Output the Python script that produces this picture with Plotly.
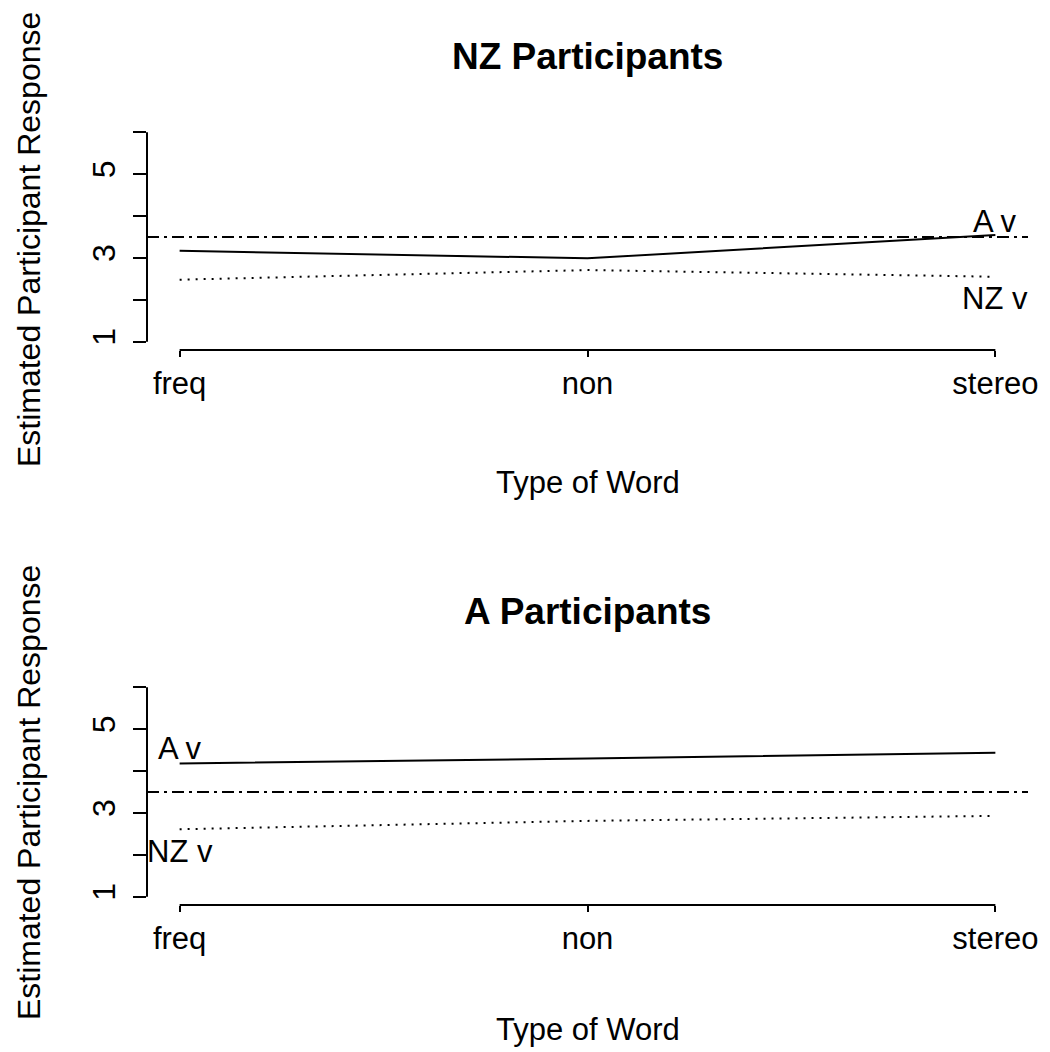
import plotly.graph_objects as go

# ---------------- data ----------------
categories = ["freq", "non", "stereo"]
y_ticks = [1, 2, 3, 4, 5, 6]
y_tick_labels = ["1", "", "3", "", "5", ""]
reference_level = 3.5

nz_panel_A = [3.17, 2.99, 3.55]    # solid line, NZ participants
nz_panel_NZ = [2.48, 2.71, 2.55]   # dotted line, NZ participants
a_panel_A = [4.18, 4.30, 4.44]     # solid line, A participants
a_panel_NZ = [2.61, 2.81, 2.93]    # dotted line, A participants

panel_titles = ["NZ Participants", "A Participants"]
x_title = "Type of Word"
y_title = "Estimated Participant Response"
series_labels = ["A v", "NZ v"]
nz_label_pos = [(3, 3.88), (3, 2.02)]
a_label_pos = [(1, 4.55), (1, 2.07)]

# ---------------- figure ----------------
FONT = "Liberation Sans, Arial, Helvetica, sans-serif"
W, H = 1050, 1052
ML, MR, MT, MB = 147, 14, 124, 147
plot_h = H - MT - MB


def py(p):
    return (H - MB - p) / plot_h


def px_(p):
    return (p - ML) / (W - ML - MR)


x_pos = [i + 1 for i in range(len(categories))]

fig = go.Figure()

panels = [
    ("x", "y", nz_panel_A, nz_panel_NZ, nz_label_pos),
    ("x2", "y2", a_panel_A, a_panel_NZ, a_label_pos),
]

for xr, yr, solid, dotted, lpos in panels:
    fig.add_trace(go.Scatter(x=x_pos, y=solid, mode="lines", xaxis=xr, yaxis=yr,
                             line=dict(color="black", width=2), showlegend=False,
                             name=series_labels[0]))
    fig.add_trace(go.Scatter(x=x_pos, y=dotted, mode="lines", xaxis=xr, yaxis=yr,
                             line=dict(color="black", width=2, dash="2px,6px"),
                             showlegend=False, name=series_labels[1]))
    # reference dash-dot line across the plot region
    fig.add_shape(type="line", xref=xr + " domain", yref=yr, x0=0, x1=1,
                  y0=reference_level, y1=reference_level,
                  line=dict(color="black", width=2, dash="12px,5px,3px,5px"))
    # R-style axis lines spanning only the tick range
    fig.add_shape(type="line", xref=xr, yref=yr + " domain", x0=x_pos[0], x1=x_pos[-1],
                  y0=0, y1=0, line=dict(color="black", width=2))
    fig.add_shape(type="line", xref=xr + " domain", yref=yr, x0=0, x1=0,
                  y0=y_ticks[0], y1=y_ticks[-1], line=dict(color="black", width=2))
    for lab, (lx, ly) in zip(series_labels, lpos):
        fig.add_annotation(x=lx, y=ly, xref=xr, yref=yr, text=lab, showarrow=False,
                           xanchor="center", yanchor="middle",
                           font=dict(family=FONT, size=31, color="black"))

common_x = dict(range=[0.92, 3.08], tickvals=x_pos, ticktext=categories,
                showgrid=False, zeroline=False, showline=False,
                ticks="outside", ticklen=6, tickwidth=2, tickcolor="black",
                tickfont=dict(family=FONT, size=31, color="black"))
common_y = dict(range=[0.8, 6.2], tickvals=y_ticks, ticktext=y_tick_labels,
                showgrid=False, zeroline=False, showline=False,
                ticks="outside", ticklen=13, tickwidth=2, tickcolor="black",
                tickangle=-90, ticklabelstandoff=5,
                tickfont=dict(family=FONT, size=32, color="black"))

fig.update_layout(
    width=W, height=H,
    margin=dict(l=ML, r=MR, t=MT, b=MB),
    paper_bgcolor="white", plot_bgcolor="white",
    font=dict(family=FONT, color="black"),
    xaxis=dict(domain=[0, 1], anchor="y", **common_x),
    yaxis=dict(domain=[py(350), 1], anchor="x", **common_y),
    xaxis2=dict(domain=[0, 1], anchor="y2", **common_x),
    yaxis2=dict(domain=[0, py(679)], anchor="x2", **common_y),
)

# titles and axis titles
title_y = [57, 611]
xt_y = [482, 1029]
yt_c = [240, 793]
for t, ty, xy, yc in zip(panel_titles, title_y, xt_y, yt_c):
    fig.add_annotation(x=0.5, y=py(ty), xref="paper", yref="paper", text="<b>" + t + "</b>",
                       showarrow=False, xanchor="center", yanchor="middle",
                       font=dict(family=FONT, size=37, color="black"))
    fig.add_annotation(x=0.5, y=py(xy), xref="paper", yref="paper", text=x_title,
                       showarrow=False, xanchor="center", yanchor="middle",
                       font=dict(family=FONT, size=31, color="black"))
    fig.add_annotation(x=px_(28), y=py(yc), xref="paper", yref="paper", text=y_title,
                       textangle=-90, showarrow=False, xanchor="center", yanchor="middle",
                       font=dict(family=FONT, size=32, color="black"))

fig.write_html("out.html")
